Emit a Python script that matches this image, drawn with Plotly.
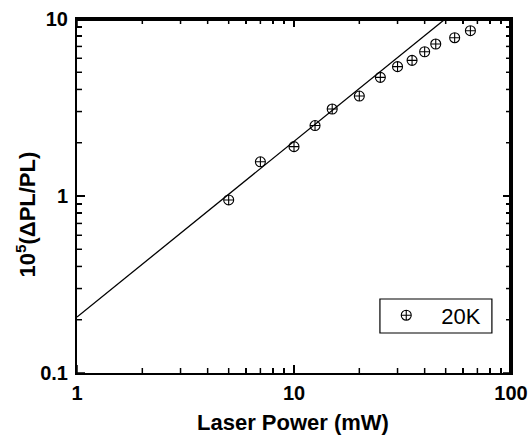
import plotly.graph_objects as go

# Data
power_mw = [5, 7, 10, 12.5, 15, 20, 25, 30, 35, 40, 45, 55, 65]
dpl_pl = [0.95, 1.56, 1.90, 2.50, 3.10, 3.67, 4.68, 5.38, 5.84, 6.53, 7.22, 7.84, 8.59]
fit_x = [1, 100]
fit_y = [0.207, 20.0]

x_ticks = [1, 10, 100]
x_ticklabels = ["1", "10", "100"]
y_ticks = [0.1, 1, 10]
y_ticklabels = ["0.1", "1", "10"]

x_minor = [m * d for d in (1, 10) for m in range(2, 10)]
y_minor = [m * d for d in (0.1, 1) for m in range(2, 10)]

FONT = "Liberation Sans, Arial, Helvetica, sans-serif"

# Figure geometry (used to express tick lengths in pixels)
W, H = 532, 436
ML, MR, MT, MB = 77, 21, 19, 63
X_RANGE = [0, 2]     # log10 units
Y_RANGE = [-1, 1]
PX_PER_DEC_X = (W - ML - MR) / (X_RANGE[1] - X_RANGE[0])
PX_PER_DEC_Y = (H - MT - MB) / (Y_RANGE[1] - Y_RANGE[0])
MAJOR_LEN, MINOR_LEN = 8, 5

fig = go.Figure()
fig.add_trace(go.Scatter(
    x=fit_x, y=fit_y, mode="lines",
    line=dict(color="black", width=1.3),
    showlegend=False, hoverinfo="skip",
))
fig.add_trace(go.Scatter(
    x=power_mw, y=dpl_pl, mode="markers", name="20K",
    marker=dict(symbol="circle-cross-open", size=10, color="black",
                line=dict(color="black", width=1.1)),
))

# Inside tick marks on all four sides, drawn through the axis scales
tx, ty = [], []
ylo, yhi = 10 ** Y_RANGE[0], 10 ** Y_RANGE[1]
xlo, xhi = 10 ** X_RANGE[0], 10 ** X_RANGE[1]
for vals, length in ((x_ticks, MAJOR_LEN), (x_minor, MINOR_LEN)):
    d = length / PX_PER_DEC_Y
    for v in vals:
        tx += [v, v, None, v, v, None]
        ty += [ylo, 10 ** (Y_RANGE[0] + d), None, yhi, 10 ** (Y_RANGE[1] - d), None]
for vals, length in ((y_ticks, MAJOR_LEN), (y_minor, MINOR_LEN)):
    d = length / PX_PER_DEC_X
    for v in vals:
        tx += [xlo, 10 ** (X_RANGE[0] + d), None, xhi, 10 ** (X_RANGE[1] - d), None]
        ty += [v, v, None, v, v, None]
fig.add_trace(go.Scatter(
    x=tx, y=ty, mode="lines", line=dict(color="black", width=1.5),
    showlegend=False, hoverinfo="skip", connectgaps=False,
))
# Top and right frame edges (clipped to half width inside the plot)
fig.add_trace(go.Scatter(
    x=[xlo, xhi, xhi], y=[yhi, yhi, ylo], mode="lines",
    line=dict(color="black", width=4),
    showlegend=False, hoverinfo="skip",
))

def axis_common(minor_vals):
    return dict(
        type="log",
        showline=True, linecolor="black", linewidth=2, mirror="ticks",
        ticks="inside", ticklen=MAJOR_LEN, tickwidth=1.5, tickcolor="black",
        showgrid=False, zeroline=False, layer="above traces",
        tickfont=dict(family=FONT, size=20, color="black", weight="bold"),
        minor=dict(ticks="inside", ticklen=MINOR_LEN, tickwidth=1.5, tickcolor="black",
                   tickmode="array", tickvals=minor_vals, showgrid=False),
    )

fig.update_xaxes(range=X_RANGE, tickmode="array", tickvals=x_ticks,
                 ticktext=x_ticklabels, ticklabelstandoff=1, **axis_common(x_minor))
fig.update_yaxes(range=Y_RANGE, tickmode="array", tickvals=y_ticks,
                 ticktext=y_ticklabels, ticklabelstandoff=3, **axis_common(y_minor))

# Legend frame
fig.add_shape(type="rect", xref="paper", yref="paper",
              x0=0.698, x1=0.956, y0=0.113, y1=0.209,
              line=dict(color="black", width=1.2), layer="above")

fig.add_annotation(
    text="Laser Power (mW)", xref="paper", yref="paper",
    x=0.498, y=-0.141, xanchor="center", yanchor="middle", showarrow=False,
    font=dict(family=FONT, size=22, color="black", weight="bold"),
)
fig.add_annotation(
    text="10<sup>5</sup>(ΔPL/PL)", xref="paper", yref="paper",
    x=-0.118, y=0.447, xanchor="center", yanchor="middle", showarrow=False,
    textangle=-90,
    font=dict(family=FONT, size=22, color="black", weight="bold"),
)

fig.update_layout(
    width=W, height=H,
    margin=dict(l=ML, r=MR, t=MT, b=MB, autoexpand=False),
    paper_bgcolor="white", plot_bgcolor="rgba(0,0,0,0)",
    showlegend=True,
    legend=dict(
        x=0.678, y=0.222, xanchor="left", yanchor="top",
        borderwidth=0, bgcolor="rgba(0,0,0,0)",
        font=dict(family=FONT, size=22, color="black"),
        itemwidth=60,
    ),
)

fig.write_html("out.html", config={"staticPlot": True},
               post_script="document.body.style.margin='0';")
